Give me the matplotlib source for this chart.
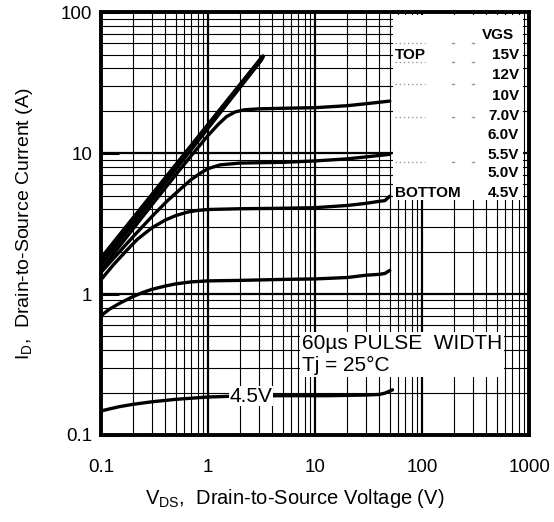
import matplotlib
matplotlib.use("Agg")
import matplotlib.pyplot as plt
from matplotlib.patches import Rectangle

plt.rcParams["font.family"] = ["Liberation Sans", "DejaVu Sans"]
plt.rcParams["mathtext.fontset"] = "custom"
plt.rcParams["mathtext.rm"] = "Liberation Sans"

# ── curves (VDS in V, ID in A) ──
vds_15 = [0.1, 3.27]
id_15 = [1.78, 48.6]
vds_12 = [0.1, 3.22]
id_12 = [1.70, 47.5]
vds_10 = [0.1, 3.15]
id_10 = [1.62, 46.0]
vds_7 = [0.1, 0.2, 0.3, 0.5, 0.7, 1.0, 1.25, 1.5, 1.8, 2.2, 3, 5, 10, 20, 30, 50]
id_7 = [1.48, 2.9, 4.3, 7.0, 9.6, 13.3, 16.0, 18.2, 19.6, 20.3, 20.6, 20.8, 21.0, 21.7, 22.4, 23.4]
vds_6 = [0.1, 0.15, 0.2, 0.3, 0.42, 0.56, 0.7, 0.85, 1.0, 1.3, 2, 5, 10, 20, 30, 50]
id_6 = [1.42, 2.0, 2.55, 3.55, 4.6, 5.6, 6.5, 7.2, 7.75, 8.25, 8.5, 8.6, 8.8, 9.1, 9.4, 9.8]
vds_55 = [0.1, 0.13, 0.17, 0.22, 0.3, 0.4, 0.5, 0.65, 0.8, 1, 2, 5, 10, 20, 30, 40, 45, 50]
id_55 = [1.26, 1.6, 2.0, 2.45, 2.95, 3.35, 3.6, 3.82, 3.92, 3.98, 4.03, 4.06, 4.1, 4.25, 4.4, 4.55, 4.6, 4.95]
vds_5 = [0.1, 0.12, 0.15, 0.2, 0.25, 0.3, 0.4, 0.5, 0.7, 1, 2, 5, 10, 20, 30, 40, 45, 50]
id_5 = [0.70, 0.78, 0.86, 0.96, 1.03, 1.08, 1.14, 1.18, 1.22, 1.24, 1.25, 1.27, 1.28, 1.31, 1.36, 1.38, 1.40, 1.47]
vds_45 = [0.1, 0.12, 0.15, 0.2, 0.3, 0.5, 1, 2, 5, 13.5, 30, 40, 45, 50, 53]
id_45 = [0.148, 0.153, 0.159, 0.165, 0.172, 0.179, 0.186, 0.189, 0.190, 0.190, 0.192, 0.194, 0.198, 0.205, 0.209]

curves = [(vds_15, id_15), (vds_12, id_12), (vds_10, id_10), (vds_7, id_7),
          (vds_6, id_6), (vds_55, id_55), (vds_5, id_5), (vds_45, id_45)]
curve_lw = [3.0, 3.0, 3.0, 2.4, 2.4, 2.4, 2.4, 2.4]

vgs_labels = ["15V", "12V", "10V", "7.0V", "6.0V", "5.5V", "5.0V", "4.5V"]
x_ticks = [0.1, 1, 10, 100, 1000]
x_ticklabels = ["0.1", "1", "10", "100", "1000"]
y_ticks = [0.1, 1, 10, 100]
y_ticklabels = ["0.1", "1", "10", "100"]

fig = plt.figure(figsize=(5.54, 5.22), dpi=100)
ax = fig.add_axes([0.182, 0.1667, 0.773, 0.810])
ax.set_xscale("log")
ax.set_yscale("log")
ax.set_xlim(0.1, 1000)
ax.set_ylim(0.1, 100)

# grid
ax.grid(True, which="major", color="black", lw=1.6, zorder=1)
ax.grid(True, which="minor", color="black", lw=0.8, zorder=1)

for (vx, vy), lw in zip(curves, curve_lw):
    ax.plot(vx, vy, color="black", lw=lw, solid_capstyle="round",
            solid_joinstyle="round", zorder=3)

# ticks
ax.set_xticks(x_ticks)
ax.set_xticklabels(x_ticklabels)
ax.set_yticks(y_ticks)
ax.set_yticklabels(y_ticklabels)
ax.tick_params(axis="x", which="both", length=0, pad=17, labelsize=13.5)
ax.tick_params(axis="y", which="major", direction="in", length=13, width=2.2,
               pad=6, labelsize=13.5)
ax.tick_params(axis="y", which="minor", length=0)
for s in ax.spines.values():
    s.set_linewidth(2.8)
    s.set_zorder(5)

ax.set_xlabel(r"V$_\mathregular{DS}$,  Drain-to-Source Voltage (V)",
              fontsize=14.5, labelpad=8)
ax.xaxis.label.set_x(0.453)
ax.set_ylabel(r"I$_\mathregular{D}$,  Drain-to-Source Current (A)",
              fontsize=14, labelpad=19)

# legend block (white panel)
ax.add_patch(Rectangle((0.682, 0.556), 0.304, 0.437, transform=ax.transAxes,
                       facecolor="white", edgecolor="none", zorder=4))
for yy in [0.928, 0.881, 0.831, 0.751, 0.645]:
    ax.plot([0.688, 0.756], [yy, yy], transform=ax.transAxes, color="#999999",
            lw=1, ls=(0, (1, 2)), zorder=4)
    ax.plot([0.82, 0.825], [yy, yy], transform=ax.transAxes, color="#999999",
            lw=1, zorder=4)
    ax.plot([0.867, 0.872], [yy, yy], transform=ax.transAxes, color="#999999",
            lw=1, zorder=4)

ax.text(0.965, 0.946, "VGS", transform=ax.transAxes, ha="right", va="center",
        fontsize=11, fontweight="bold", zorder=6)
label_y = [0.898, 0.851, 0.801, 0.754, 0.709, 0.662, 0.619, 0.572]
for lab, yy in zip(vgs_labels, label_y):
    ax.text(0.977, yy, lab, transform=ax.transAxes, ha="right", va="center",
            fontsize=11, fontweight="bold", zorder=6)
ax.text(0.686, label_y[0], "TOP", transform=ax.transAxes, ha="left", va="center",
        fontsize=11, fontweight="bold", zorder=6)
ax.text(0.686, label_y[-1], "BOTTOM", transform=ax.transAxes, ha="left",
        va="center", fontsize=11, fontweight="bold", zorder=6)

# conditions note
ax.text(0.470, 0.19, "60\u00b5s PULSE  WIDTH\nTj = 25\u00b0C",
        transform=ax.transAxes, ha="left", va="center", fontsize=15,
        linespacing=1.15, zorder=6,
        bbox=dict(facecolor="white", edgecolor="none", pad=1.5))

# curve label on the 4.5 V trace
ax.text(2.52, 0.189, "4.5V", ha="center", va="center", fontsize=15, zorder=6,
        bbox=dict(facecolor="white", edgecolor="none", pad=0.5))

fig.savefig("out.png", dpi=100)
